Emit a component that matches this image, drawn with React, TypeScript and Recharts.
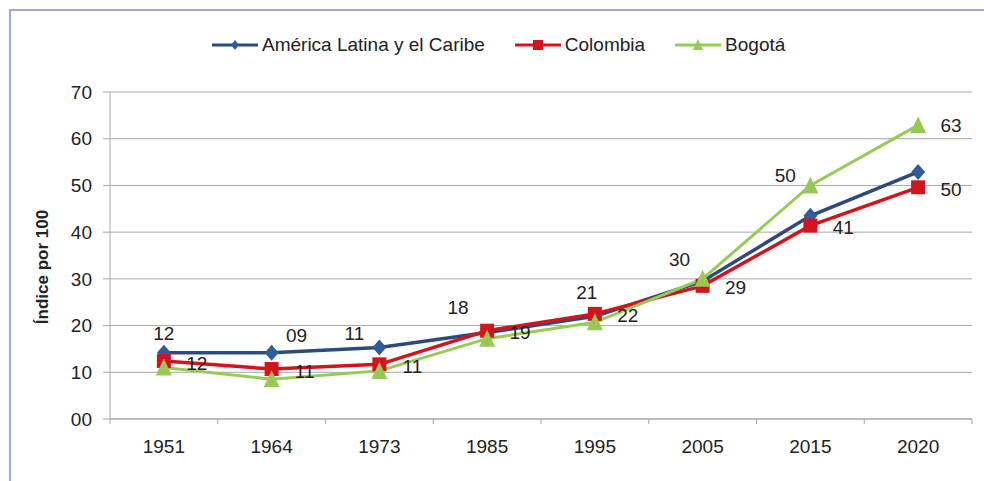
import React from "react";
import {
  LineChart,
  Line,
  XAxis,
  YAxis,
  CartesianGrid,
  LabelList,
  Label,
} from "recharts";

const YEARS = ["1951", "1964", "1973", "1985", "1995", "2005", "2015", "2020"];
const LATAM = [14.2, 14.2, 15.3, 18.5, 22, 29.5, 43.5, 52.9];
const COLOMBIA = [12.4, 10.7, 11.7, 18.9, 22.5, 28.5, 41.4, 49.6];
const BOGOTA = [11, 8.5, 10.3, 17.2, 20.7, 30, 50, 62.9];
// printed labels, as shown on the chart
const COLOMBIA_LABELS = ["12", "11", "11", "19", "22", "29", "41", "50"];
const BOGOTA_LABELS = ["12", "09", "11", "18", "21", "30", "50", "63"];
const Y_TICKS = [0, 10, 20, 30, 40, 50, 60, 70];

const FONT = "'Liberation Sans', Arial, sans-serif";
const BLUE_LINE = "#2b4a7e";
const BLUE_DOT = "#2f5c9c";
const RED = "#d4141c";
const GREEN = "#96cc55";
const GREEN_DOT = "#98c957";
const GRID = "#a8a8a8";
const TEXT = "#222";

const PLOT_W = 862;
const HALF_BAND = PLOT_W / YEARS.length / 2;

// label offsets for Bogotá values (manually placed in the original)
const BOGOTA_OFFSETS = [
  [0, -34],
  [25, -44],
  [-25, -37],
  [-29, -31],
  [-8, -30],
  [-23, -19],
  [-25, -10],
  [33, 0],
];

const data = YEARS.map((year, i) => ({
  year,
  latam: LATAM[i],
  colombia: COLOMBIA[i],
  bogota: BOGOTA[i],
  colLabel: COLOMBIA_LABELS[i],
  bogLabel: BOGOTA_LABELS[i],
}));

const Diamond = ({ cx, cy, w = 7, h = 8 }: any) => (
  <polygon
    points={`${cx},${cy - h} ${cx + w},${cy} ${cx},${cy + h} ${cx - w},${cy}`}
    fill={BLUE_DOT}
  />
);

const Square = ({ cx, cy, s = 7 }: any) => (
  <rect x={cx - s} y={cy - s} width={s * 2} height={s * 2} fill={RED} />
);

const Triangle = ({ cx, cy, w = 8, up = 9, down = 8 }: any) => (
  <polygon
    points={`${cx},${cy - up} ${cx + w},${cy + down} ${cx - w},${cy + down}`}
    fill={GREEN_DOT}
  />
);

const XTick = (props: any) => {
  const { x, y, payload, index } = props;
  const last = index === YEARS.length - 1;
  return (
    <g>
      <line x1={x - HALF_BAND} x2={x - HALF_BAND} y1={y} y2={y + 5} stroke={GRID} />
      {last && (
        <line x1={x + HALF_BAND} x2={x + HALF_BAND} y1={y} y2={y + 5} stroke={GRID} />
      )}
      <text
        x={x}
        y={y + 34}
        textAnchor="middle"
        fontSize={19}
        fontFamily={FONT}
        fill={TEXT}
      >
        {payload.value}
      </text>
    </g>
  );
};

const colombiaLabel = (props: any) => {
  const { x, y, value, index } = props;
  return (
    <text
      key={`cl-${index}`}
      x={x + 33}
      y={y + 2}
      textAnchor="middle"
      dominantBaseline="central"
      fontSize={19}
      fontFamily={FONT}
      fill={TEXT}
    >
      {value}
    </text>
  );
};

const bogotaLabel = (props: any) => {
  const { x, y, value, index } = props;
  const [dx, dy] = BOGOTA_OFFSETS[index] || [0, -20];
  return (
    <text
      key={`bl-${index}`}
      x={x + dx}
      y={y + dy}
      textAnchor="middle"
      dominantBaseline="central"
      fontSize={19}
      fontFamily={FONT}
      fill={TEXT}
    >
      {value}
    </text>
  );
};

const LegendItem = ({ color, marker, text }: any) => (
  <div style={{ display: "flex", alignItems: "center" }}>
    <svg width={46} height={20}>
      <line x1={0} x2={46} y1={10} y2={10} stroke={color} strokeWidth={3} />
      {marker}
    </svg>
    <span style={{ marginLeft: 4 }}>{text}</span>
  </div>
);

export default function App() {
  return (
    <div
      style={{
        position: "absolute",
        left: 0,
        top: 0,
        width: 984,
        height: 481,
        background: "#fff",
        overflow: "hidden",
      }}
    >
      <div
        style={{
          position: "absolute",
          left: 9,
          top: 9,
          right: 0,
          bottom: 0,
          borderTop: "2px solid #a3a8dc",
          borderLeft: "2px solid #a3a8dc",
        }}
      />
      <div
        style={{
          position: "absolute",
          left: 212,
          top: 34,
          display: "flex",
          gap: 30,
          fontFamily: FONT,
          fontSize: 19,
          color: TEXT,
          lineHeight: "22px",
        }}
      >
        <LegendItem
          color={BLUE_LINE}
          text="América Latina y el Caribe"
          marker={<Diamond cx={23} cy={10} w={4} h={5} />}
        />
        <LegendItem
          color={RED}
          text="Colombia"
          marker={<Square cx={23} cy={10} s={5} />}
        />
        <LegendItem
          color={GREEN}
          text="Bogotá"
          marker={<Triangle cx={23} cy={10} w={5} up={6} down={5} />}
        />
      </div>
      <div style={{ position: "absolute", left: 0, top: 0 }}>
        <LineChart
          width={984}
          height={481}
          data={data}
          margin={{ top: 92, right: 12, bottom: 0, left: 0 }}
        >
          <CartesianGrid vertical={false} stroke={GRID} />
          <XAxis
            dataKey="year"
            padding={{ left: HALF_BAND, right: HALF_BAND }}
            axisLine={{ stroke: GRID }}
            tickLine={false}
            tickSize={0}
            tickMargin={0}
            height={62}
            interval={0}
            tick={(p: any) => <XTick {...p} />}
          />
          <YAxis
            width={110}
            domain={[0, 70]}
            ticks={Y_TICKS}
            interval={0}
            axisLine={{ stroke: GRID }}
            tickLine={{ stroke: GRID }}
            tickSize={7}
            tickMargin={11}
            tickFormatter={(v: number) => String(v).padStart(2, "0")}
            tick={{ fontSize: 19, fontFamily: FONT, fill: TEXT }}
          >
            <Label
              content={() => (
                <text
                  x={42}
                  y={267}
                  transform="rotate(-90 42 267)"
                  textAnchor="middle"
                  dominantBaseline="central"
                  fontSize={17}
                  fontWeight={700}
                  fontFamily={FONT}
                  fill={TEXT}
                >
                  Índice por 100
                </text>
              )}
            />
          </YAxis>
          <Line
            dataKey="latam"
            stroke={BLUE_LINE}
            strokeWidth={3.5}
            isAnimationActive={false}
            activeDot={false}
            dot={(p: any) => <Diamond key={`d-${p.index}`} cx={p.cx} cy={p.cy} />}
          />
          <Line
            dataKey="colombia"
            stroke={RED}
            strokeWidth={3.5}
            isAnimationActive={false}
            activeDot={false}
            dot={(p: any) => <Square key={`s-${p.index}`} cx={p.cx} cy={p.cy} />}
          >
            <LabelList dataKey="colLabel" content={colombiaLabel} />
          </Line>
          <Line
            dataKey="bogota"
            stroke={GREEN}
            strokeWidth={3}
            isAnimationActive={false}
            activeDot={false}
            dot={(p: any) => <Triangle key={`t-${p.index}`} cx={p.cx} cy={p.cy} />}
          >
            <LabelList dataKey="bogLabel" content={bogotaLabel} />
          </Line>
        </LineChart>
      </div>
    </div>
  );
}
